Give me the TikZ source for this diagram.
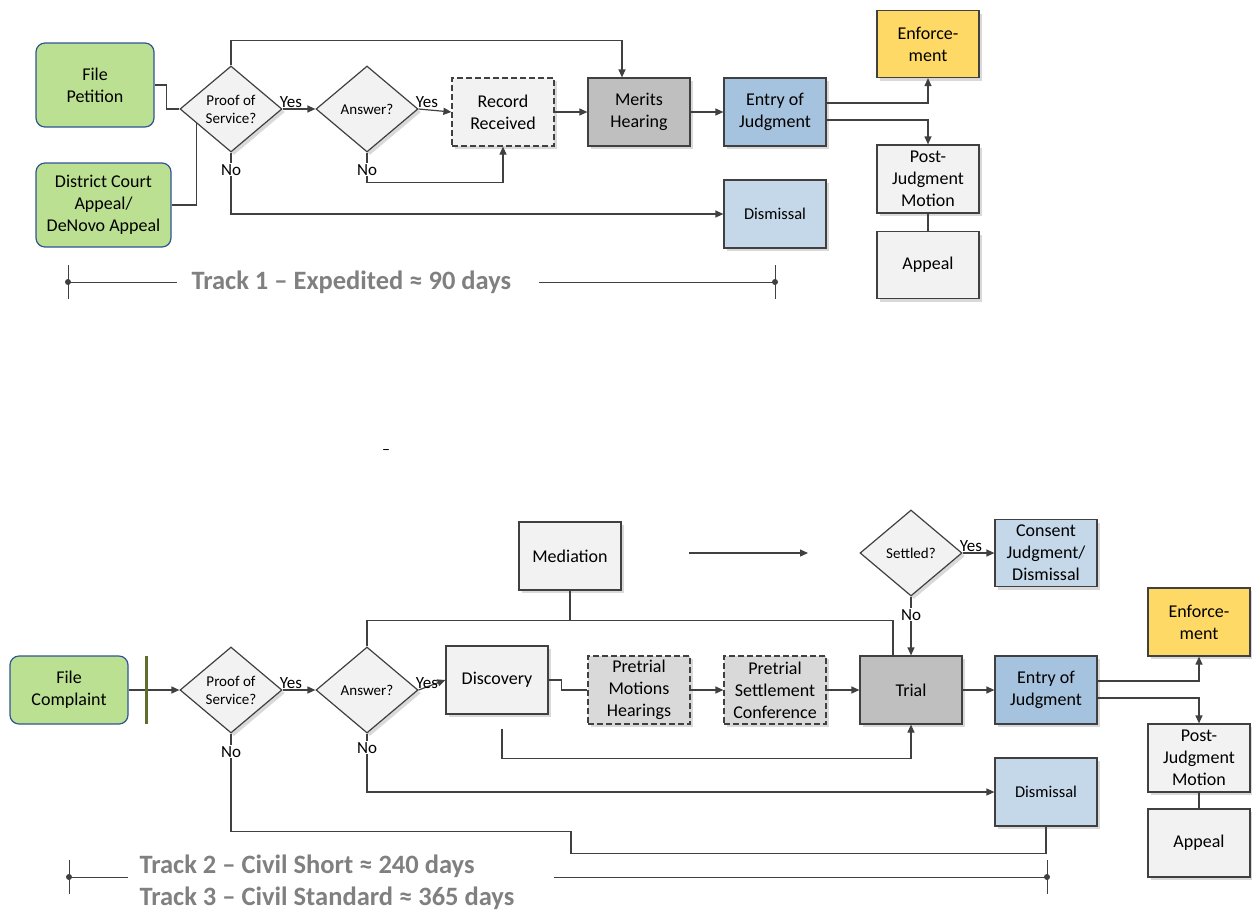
\documentclass[tikz,border=0pt]{standalone}
\usepackage{fontspec}
\setmainfont{Carlito}
\usetikzlibrary{shapes.geometric,calc}
\usetikzlibrary{arrows.meta,shadows}

\definecolor{linegray}{RGB}{64,64,64}
\definecolor{boxgray}{RGB}{242,242,242}
\definecolor{midgray}{RGB}{191,191,191}
\definecolor{pretrialgray}{RGB}{217,217,217}
\definecolor{startgreen}{RGB}{187,224,145}
\definecolor{startedge}{RGB}{47,85,151}
\definecolor{entryblue}{RGB}{165,194,222}
\definecolor{dismblue}{RGB}{197,216,233}
\definecolor{enfyellow}{RGB}{255,217,102}
\definecolor{trackgray}{RGB}{128,128,128}
\definecolor{bargreen}{RGB}{95,110,45}

\tikzset{
  txt/.style={font=\fontsize{18}{22}\selectfont, align=center, text=black},
  shade3/.style={drop shadow={opacity=0.3, shadow xshift=3pt, shadow yshift=-3pt}},
  box/.style={txt, shade3, draw=linegray, line width=1.2pt, fill=boxgray,
    minimum width=102pt, minimum height=68pt, inner sep=1pt},
  dashbox/.style={box, dashed, dash pattern=on 6pt off 3pt},
  startbox/.style={txt, draw=startedge, line width=1.2pt, fill=startgreen,
    rounded corners=9pt, minimum width=118pt, minimum height=84pt},
  decision/.style={diamond, shade3, draw=linegray, line width=1.2pt, fill=boxgray,
    font=\fontsize{15}{18}\selectfont, align=center, inner sep=0pt,
    minimum width=102pt, minimum height=86pt},
  link/.style={draw=linegray, line width=1.2pt},
  arr/.style={link, -{Triangle[length=8pt,width=7pt]}},
  yn/.style={font=\fontsize{17}{18}\selectfont, inner sep=1pt},
  track/.style={font=\fontsize{26.5}{32}\selectfont\bfseries, text=trackgray, align=left},
  tick/.style={draw=linegray, line width=1pt}
}

\begin{document}
\begin{tikzpicture}[x=1pt,y=-1pt]
\useasboundingbox (0,0) rectangle (1252,911);

% Track 1
\node[startbox] (fpet) at (95,85) {File\\Petition};
\node[startbox, minimum width=135pt] (dca) at (103.5,205) {District Court\\Appeal/\\DeNovo Appeal};
\node[decision] (pos1) at (231,109) {Proof of\\Service?};
\node[decision] (ans1) at (367,109) {Answer?};
\node[dashbox] (rec) at (503,112) {Record\\Received};
\node[box, fill=midgray] (merits) at (639,112) {Merits\\Hearing};
\node[box, fill=entryblue] (entry1) at (775,112) {Entry of\\Judgment};
\node[box, fill=dismblue, font=\fontsize{16.5}{18}\selectfont] (dism1) at (775,214) {Dismissal};
\node[box, fill=enfyellow, minimum height=67pt] (enf1) at (928,44) {Enforce-\\ment};
\node[box] (post1) at (928,179) {Post-\\Judgment\\Motion};
\node[box, minimum height=67pt] (app1) at (928,265) {Appeal};

\draw[link] (fpet.east) -- ++(12,0) |- (pos1.west);
\draw[link] (dca.east) -| ($(pos1.west)!0.33!(pos1.south)$);
\draw[arr] (pos1.east) -- (ans1.west);
\draw[arr] (ans1.east) -- (rec.west);
\draw[arr] (rec.east) -- (merits.west);
\draw[arr] (merits.east) -- (entry1.west);
\draw[arr] (pos1.north) -- ++(0,-25) -| ([xshift=-17pt]merits.north);
\draw[arr] (ans1.south) -- ++(0,30) -| (rec.south);
\draw[arr] (pos1.south) |- (dism1.west);
\draw[arr] ([yshift=9pt]entry1.east) -| (enf1.south);
\draw[arr] ([yshift=-8pt]entry1.east) -| (post1.north);
\draw[link] (post1.south) -- (app1.north);

\node[yn, anchor=south west] at ([xshift=-4pt]pos1.east) {Yes};
\node[yn, anchor=south west] at ([xshift=-4pt]ans1.east) {Yes};
\node[yn, fill=white] at ([yshift=-17pt]pos1.south) {No};
\node[yn, fill=white] at ([yshift=-17pt]ans1.south) {No};

\coordinate (t1l) at (68,282);
\coordinate (t1r) at (775,282);
\node[track, anchor=west] (t1) at (188,282) {Track 1 – Expedited ≈ 90 days};
\draw[tick] (t1l) -- ([xshift=-11pt]t1.west);
\draw[tick] ([xshift=24pt]t1.east) -- (t1r);
\draw[tick] ([yshift=17pt]t1l) -- ([yshift=-17pt]t1l);
\draw[tick] ([yshift=17pt]t1r) -- ([yshift=-17pt]t1r);
\fill[linegray] (t1l) circle (3pt) (t1r) circle (3pt);

\node[font=\fontsize{16}{16}\selectfont] (stray) at (386,452) {–};

% Tracks 2 and 3
\node[box] (med) at (570,556) {Mediation};
\node[decision] (settled) at (911,553) {Settled?};
\node[box, fill=dismblue, minimum height=67pt] (consent) at (1046,553) {Consent\\Judgment/\\Dismissal};
\node[startbox, minimum height=68pt] (fcomp) at (69,690) {File\\Complaint};
\node[decision] (pos2) at (231,690) {Proof of\\Service?};
\node[decision] (ans2) at (367,690) {Answer?};
\node[box] (disc) at (497,680) {Discovery};
\node[dashbox, fill=pretrialgray] (ptm) at (639,690) {Pretrial\\Motions\\Hearings};
\node[dashbox, fill=pretrialgray] (psc) at (775,690) {Pretrial\\Settlement\\Conference};
\node[box, fill=midgray] (trial) at (911,690) {Trial};
\node[box, fill=entryblue] (entry2) at (1046,690) {Entry of\\Judgment};
\node[box, fill=dismblue, font=\fontsize{16.5}{18}\selectfont] (dism2) at (1046,792) {Dismissal};
\node[box, fill=enfyellow] (enf2) at (1199,622) {Enforce-\\ment};
\node[box] (post2) at (1199,758) {Post-\\Judgment\\Motion};
\node[box] (app2) at (1199,843) {Appeal};

\coordinate (medl) at (689,553);
\coordinate (medr) at (808,553);
\draw[arr] (medl) -- (medr);
\draw[arr] (settled.east) -- (consent.west);
\draw[arr] (settled.south) -- (trial.north);
\draw[arr] (fcomp.east) -- (pos2.west);
\draw[draw=bargreen, line width=3pt] (146,656) -- (146,724);
\draw[arr] (pos2.east) -- (ans2.west);
\draw[arr] (ans2.east) -- (disc.west);
\draw[link] (disc.east) -- ++(13,0) |- (ptm.west);
\draw[arr] (ptm.east) -- (psc.west);
\draw[arr] (psc.east) -- (trial.west);
\draw[arr] (trial.east) -- (entry2.west);
\draw[link] (ans2.north) -- ++(0,-26) coordinate (topl) -| ([xshift=-18pt]trial.north);
\draw[link] (med.south) -- (med.south |- topl);
\coordinate (discb) at ([xshift=5pt,yshift=-14pt]disc.south);
\draw[arr] (discb) -- ++(0,30) -| (trial.south);
\draw[arr] (ans2.south) |- (dism2.west);
\draw[link] (pos2.south) -- ++(0,98) -- ++(340,0) -- ++(0,22) -| (dism2.south);
\draw[arr] ([yshift=9pt]entry2.east) -| (enf2.south);
\draw[arr] ([yshift=-8pt]entry2.east) -| (post2.north);
\draw[link] (post2.south) -- (app2.north);

\node[yn, anchor=south west] at ([xshift=-4pt]pos2.east) {Yes};
\node[yn, anchor=south west] at ([xshift=-4pt]ans2.east) {Yes};
\node[yn, anchor=south west] at ([xshift=-4pt]settled.east) {Yes};
\node[yn, fill=white] at ([yshift=-18pt]pos2.south) {No};
\node[yn, fill=white] at ([yshift=-14pt]ans2.south) {No};
\node[yn, fill=white] at ([yshift=-18pt]settled.south) {No};

\coordinate (t2l) at (69,877);
\coordinate (t2r) at (1047,877);
\node[track, anchor=west] (t2) at (136,882) {Track 2 – Civil Short ≈ 240 days\\Track 3 – Civil Standard ≈ 365 days};
\draw[tick] (t2l) -- (128,877);
\draw[tick] (554,877) -- (t2r);
\draw[tick] ([yshift=17pt]t2l) -- ([yshift=-17pt]t2l);
\draw[tick] ([yshift=17pt]t2r) -- ([yshift=-17pt]t2r);
\fill[linegray] (t2l) circle (3pt) (t2r) circle (3pt);
\end{tikzpicture}
\end{document}
